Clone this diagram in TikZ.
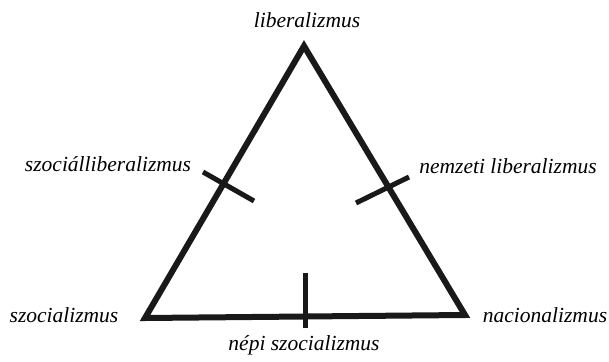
\documentclass[tikz,border=0pt]{standalone}
\usepackage{fontspec}
\setmainfont{Liberation Serif}
\begin{document}
\begin{tikzpicture}[x=1pt,y=-1pt,
  lbl/.style={font=\fontsize{21.5}{25}\selectfont\itshape, anchor=base, inner sep=0pt},
  edge/.style={line width=6pt, line join=miter, black!90},
  tick/.style={line width=5pt, black!90}]
\useasboundingbox (0,0) rectangle (609,361);
\coordinate (T) at (304,46);
\coordinate (L) at (145,318);
\coordinate (R) at (465,315);
\draw[edge] (T) -- (L) -- (R) -- cycle;
\coordinate (lt1) at (203,172);
\coordinate (lt2) at (254,201);
\coordinate (rt1) at (356,203);
\coordinate (rt2) at (409,177);
\coordinate (bt1) at (305,273);
\coordinate (bt2) at (305,328);
\draw[tick] (lt1) -- (lt2);
\draw[tick] (rt1) -- (rt2);
\draw[tick] (bt1) -- (bt2);
\node[lbl] (lib) at (307,28) {liberalizmus};
\node[lbl] (szl) at (108,171) {szociálliberalizmus};
\node[lbl] (nl) at (508,173) {nemzeti liberalizmus};
\node[lbl] (szoc) at (64,322) {szocializmus};
\node[lbl] (nac) at (545,322) {nacionalizmus};
\node[lbl] (nepi) at (304,350) {népi szocializmus};
\end{tikzpicture}
\end{document}
